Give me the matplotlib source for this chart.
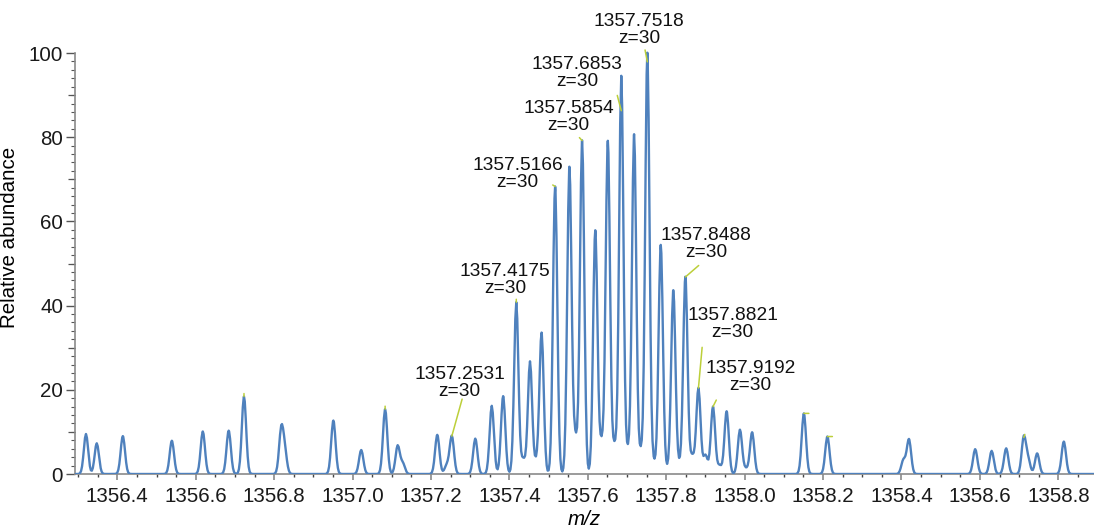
import numpy as np
import matplotlib
matplotlib.use("Agg")
import matplotlib.pyplot as plt
from matplotlib.ticker import MultipleLocator, FormatStrFormatter

# Peak centroids (m/z) and relative abundances of the isotope envelope
peak_mz = [
    1356.320, 1356.3475, 1356.414, 1356.539, 1356.618, 1356.684, 1356.723,
    1356.818, 1356.827, 1356.951, 1357.022, 1357.083, 1357.115, 1357.128,
    1357.216, 1357.240, 1357.2531, 1357.313, 1357.355, 1357.384, 1357.4175,
    1357.435, 1357.4525, 1357.468, 1357.482, 1357.5166, 1357.553, 1357.568,
    1357.5854, 1357.619, 1357.635, 1357.651, 1357.668, 1357.6853, 1357.702,
    1357.718, 1357.735, 1357.7518, 1357.768, 1357.786, 1357.802, 1357.818,
    1357.833, 1357.8488, 1357.866, 1357.8821, 1357.900, 1357.9192, 1357.936,
    1357.954, 1357.988, 1358.003, 1358.019, 1358.151, 1358.211, 1358.405,
    1358.419, 1358.588, 1358.630, 1358.667, 1358.712, 1358.723, 1358.746,
    1358.814,
]
peak_abundance = [
    9.5, 7.3, 9.0, 7.9, 10.1, 10.3, 18.4,
    10.3, 5.0, 12.7, 5.7, 15.4, 6.7, 2.5,
    9.3, 2.0, 9.0, 8.4, 16.2, 18.5, 40.8,
    3.5, 26.7, 2.5, 33.5, 68.3, 72.8, 8.2,
    79.2, 57.8, 7.0, 79.0, 6.5, 94.5, 5.0,
    80.6, 5.0, 100.0, 2.6, 54.4, 1.0, 43.6,
    2.0, 46.8, 4.2, 20.4, 4.5, 16.0, 2.0,
    14.9, 10.5, 1.2, 9.9, 14.4, 8.9, 3.3,
    8.2, 5.9, 5.5, 6.1, 8.7, 3.3, 4.9,
    7.7,
]

# Annotated centroids: m/z, charge, and where the leader line meets the trace
label_mz = [1357.2531, 1357.4175, 1357.5166, 1357.5854, 1357.6853,
            1357.7518, 1357.8488, 1357.8821, 1357.9192]
label_charge = [30, 30, 30, 30, 30, 30, 30, 30, 30]
label_anchor = [9.0, 40.8, 68.3, 79.2, 86.3, 97.9, 46.8, 20.4, 16.0]

# Centroids flagged without a text label
flag_mz = [1356.723, 1357.083, 1358.151, 1358.211, 1358.712]
flag_abundance = [18.4, 15.4, 14.4, 8.9, 8.7]

x_ticks = [1356.4, 1356.6, 1356.8, 1357.0, 1357.2, 1357.4, 1357.6,
           1357.8, 1358.0, 1358.2, 1358.4, 1358.6, 1358.8]
y_ticks = [0, 20, 40, 60, 80, 100]

# ---- profile trace built from the centroid list ----
peak_width = 0.0055
grid = np.arange(1356.295, 1358.892, 0.0025)
mz = np.unique(np.concatenate([grid, np.asarray(peak_mz)]))
profile = np.zeros_like(mz)
for c, h in zip(peak_mz, peak_abundance):
    profile += h * np.exp(-0.5 * ((mz - c) / peak_width) ** 2)

plt.rcParams["font.family"] = ["Liberation Sans", "DejaVu Sans"]
FS_TICK = 14.8
FS_ANN = 13.8
LINE = "#4f81bd"
LEAD = "#bccf3a"
AX = "#8a8a8a"

fig = plt.figure(figsize=(10.94, 5.31), dpi=100)
ax = fig.add_axes([75 / 1094, 57 / 531, 1 - 75 / 1094, 474 / 531])
ax.plot(mz, profile, color=LINE, lw=1.7, solid_joinstyle="round", zorder=3)

ax.set_xlim(1356.292, 1358.891)
ax.set_ylim(0, 112.6)

for s in ("top", "right"):
    ax.spines[s].set_visible(False)
for s in ("left", "bottom"):
    ax.spines[s].set_color(AX)
    ax.spines[s].set_linewidth(1.2)
ax.spines["left"].set_bounds(0, 100)

ax.set_xticks(x_ticks)
ax.xaxis.set_major_formatter(FormatStrFormatter("%.1f"))
ax.xaxis.set_minor_locator(MultipleLocator(0.05))
ax.set_yticks(y_ticks)
ax.set_yticks(np.arange(0, 101, 2), minor=True)

ax.tick_params(axis="x", which="major", length=4.5, width=1.2, color=AX,
               labelsize=FS_TICK, pad=5, labelcolor="#1a1a1a")
ax.tick_params(axis="x", which="minor", length=2, width=1.0, color="#444444")
ax.tick_params(axis="y", which="major", length=6.5, width=1.0, color="#555555",
               labelsize=FS_TICK, pad=2, labelcolor="#1a1a1a")
ax.tick_params(axis="y", which="minor", length=3, width=0.8, color="#555555")

# intermediate y ticks at the odd tens
sec = ax.secondary_yaxis("left")
sec.set_yticks([10, 30, 50, 70, 90])
sec.set_yticklabels([])
sec.tick_params(length=4.8, width=0.9, color="#555555")
sec.spines["left"].set_visible(False)

ax.set_xlabel("m/z", fontsize=FS_TICK, style="italic", labelpad=2.5)
ax.set_ylabel("Relative abundance", fontsize=FS_TICK, labelpad=7)

# ---- annotations ----
text_offsets = [(7.8, 53), (-11.3, 22), (-37.7, 12.7), (-13.7, 23.7),
                (-44.3, 37.8), (-8.5, 31.5), (20.5, 33.3), (34.2, 64.2),
                (37.3, 29.7)]
leader_offsets = [(10.3, 37), (0, 3), (-2.4, 1.5), (-2.7, 3), (-4, 15.3),
                  (-2.3, 11.9), (13.3, 11.5), (3.7, 40.8), (3.3, 6.6)]

for m, z, a, t_off, l_off in zip(label_mz, label_charge, label_anchor,
                                 text_offsets, leader_offsets):
    ax.annotate("", xy=(m, a), xytext=l_off, textcoords="offset pixels",
                arrowprops=dict(arrowstyle="-", color=LEAD, lw=1.1,
                                shrinkA=0, shrinkB=0),
                annotation_clip=False, zorder=4)
    ax.annotate(f"{m:.4f}\nz={z}", xy=(m, a), xytext=t_off,
                textcoords="offset pixels", ha="center", va="center",
                multialignment="center", fontsize=FS_ANN, linespacing=1.0,
                color="#111111", annotation_clip=False, zorder=5)

flag_offsets = [(0, 3), (0, 3), (5, 0), (5, 0), (1, 3)]
for m, a, off in zip(flag_mz, flag_abundance, flag_offsets):
    ax.annotate("", xy=(m, a), xytext=off, textcoords="offset pixels",
                arrowprops=dict(arrowstyle="-", color=LEAD, lw=1.1,
                                shrinkA=0, shrinkB=0),
                annotation_clip=False, zorder=4)

fig.savefig("out.png", dpi=100)
